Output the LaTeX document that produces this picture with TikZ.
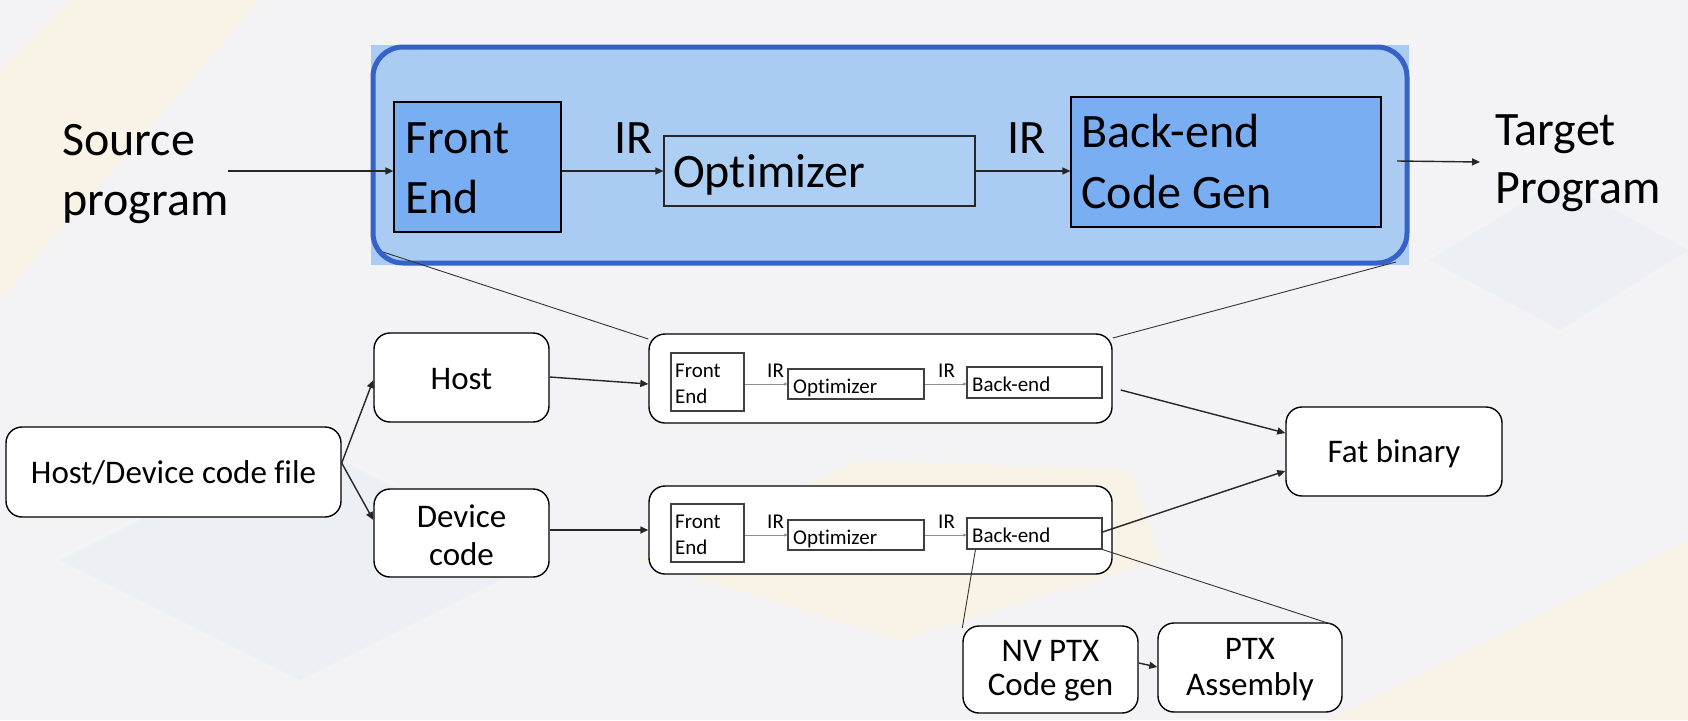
\documentclass[tikz,border=0pt]{standalone}
\usepackage{fontspec}
\setmainfont{Carlito}[Ligatures=NoCommon]
\usetikzlibrary{arrows.meta}
\definecolor{bgc}{RGB}{243,243,245}
\definecolor{bgyel}{RGB}{248,243,230}
\definecolor{bgblu}{RGB}{236,239,244}
\definecolor{bigfill}{RGB}{170,203,242}
\definecolor{bigborder}{RGB}{52,98,198}
\definecolor{midblue}{RGB}{122,174,242}
\definecolor{optfill}{RGB}{174,207,244}
\newcommand\fBig{\fontsize{48}{58}\selectfont}
\newcommand\fMid{\fontsize{33}{40}\selectfont}
\newcommand\fSml{\fontsize{21}{26}\selectfont}
\begin{document}
\begin{tikzpicture}[x=1pt,y=-1pt,
  bigtxt/.style={font=\fBig,inner sep=0pt,text=black},
  midtxt/.style={font=\fMid,inner sep=0pt,text=black},
  smltxt/.style={font=\fSml,inner sep=0pt,text=black},
  bluebox/.style={draw=black,line width=1.2pt,fill=midblue,inner sep=0pt},
  optbox/.style={draw=black!85,line width=1.2pt,fill=optfill,inner sep=0pt},
  rbox/.style={draw=black,line width=1.4pt,rounded corners=16pt,fill=white,inner sep=0pt},
  sbox/.style={draw=black!75,line width=1.1pt,fill=white,inner sep=0pt},
  arr/.style={draw=black!85,line width=1.4pt,-{Triangle[length=8pt,width=7pt]}},
  sarr/.style={draw=black!45,line width=0.8pt,-{Triangle[length=3pt,width=3pt]}},
  zoomline/.style={draw=black!80,line width=0.9pt}]
\useasboundingbox (0,0) rectangle (1688,720);
% background
\fill[bgc] (0,0) rectangle (1688,720);
\fill[bgyel] (0,70) -- (70,0) -- (260,0) -- (0,300) -- cycle;
\fill[bgyel] (640,560) -- (860,460) -- (1130,470) -- (1160,560) -- (900,640) -- cycle;
\fill[bgyel] (1330,720) -- (1688,540) -- (1688,720) -- cycle;
\fill[bgblu] (60,560) -- (300,440) -- (540,560) -- (300,680) -- cycle;
\fill[bgblu] (1430,260) -- (1560,180) -- (1688,250) -- (1560,330) -- cycle;

% big compiler box
\fill[bigfill] (371,45) rectangle (1409,265);
\node[draw=bigborder,line width=5pt,rounded corners=30pt,fill=bigfill,
      minimum width=1034pt,minimum height=216pt,inner sep=0pt] (big) at (890,155) {};
\node[bluebox,minimum width=167pt,minimum height=130pt] (FE) at (477.5,167) {};
\node[optbox,minimum width=311pt,minimum height=70pt] (OPT) at (819.5,171) {};
\node[bluebox,minimum width=310pt,minimum height=130pt] (BE) at (1226,162) {};
\node[bigtxt,anchor=base west] (feA) at (405,153) {Front};
\node[bigtxt,anchor=base west] (feB) at (405,213) {End};
\node[bigtxt,anchor=base west] (optT) at (673,187) {Optimizer};
\node[bigtxt,anchor=base west] (beA) at (1081,147) {Back-end};
\node[bigtxt,anchor=base west] (beB) at (1081,208) {Code Gen};
\node[bigtxt,anchor=base west] (irA) at (614,153) {IR};
\node[bigtxt,anchor=base west] (irB) at (1007,153) {IR};
\node[bigtxt,anchor=base west] (srcA) at (62,155) {Source};
\node[bigtxt,anchor=base west] (srcB) at (62,215) {program};
\node[bigtxt,anchor=base west] (tgA) at (1495,145) {Target};
\node[bigtxt,anchor=base west] (tgB) at (1495,203) {Program};
\coordinate (srcS) at (228,171);
\coordinate (tgS) at (1397,161);
\coordinate (tgE) at (1480,162);
\draw[arr] (srcS) -- (srcS -| FE.west);
\draw[arr] (FE.east |- OPT.west) -- (OPT.west);
\draw[arr] (OPT.east) -- (OPT.east -| BE.west);
\draw[arr] (tgS) -- (tgE);

% lower part
\node[rbox,minimum width=335pt,minimum height=90pt] (HD) at (173.5,472) {};
\node[midtxt,anchor=base] (hdT) at (173.5,483) {Host/Device code file};
\node[rbox,minimum width=175pt,minimum height=89pt] (HO) at (461.5,377.5) {};
\node[midtxt,anchor=base] (hoT) at (461.5,389) {Host};
\node[rbox,minimum width=175pt,minimum height=88pt] (DV) at (461.5,533) {};
\node[midtxt,anchor=base] (dvA) at (461.5,527) {Device};
\node[midtxt,anchor=base] (dvB) at (461.5,565) {code};

\node[rbox,minimum width=463pt,minimum height=89pt] (C1) at (880.5,378.5) {};
\node[rbox,minimum width=463pt,minimum height=88pt] (C2) at (880.5,530) {};

% upper small pipeline
\node[sbox,minimum width=73pt,minimum height=58pt] (fe1) at (707.5,382) {};
\node[sbox,minimum width=136pt,minimum height=30pt] (op1) at (856,384) {};
\node[sbox,minimum width=135pt,minimum height=31pt] (be1) at (1034.5,382.5) {};
\node[smltxt,anchor=base west] (fe1A) at (675,377) {Front};
\node[smltxt,anchor=base west] (fe1B) at (675,403) {End};
\node[smltxt,anchor=base west] (op1T) at (793,393) {Optimizer};
\node[smltxt,anchor=base west] (be1T) at (972,391) {Back-end};
\node[smltxt,anchor=base west] (ir1a) at (767,377) {IR};
\node[smltxt,anchor=base west] (ir1b) at (938,377) {IR};
\draw[sarr] (fe1.east |- op1.west) -- (op1.west);
\draw[sarr] (op1.east) -- (op1.east -| be1.west);

% lower small pipeline
\node[sbox,minimum width=73pt,minimum height=58pt] (fe2) at (707.5,533) {};
\node[sbox,minimum width=136pt,minimum height=30pt] (op2) at (856,535) {};
\node[sbox,minimum width=135pt,minimum height=31pt] (be2) at (1034.5,533.5) {};
\node[smltxt,anchor=base west] (fe2A) at (675,528) {Front};
\node[smltxt,anchor=base west] (fe2B) at (675,554) {End};
\node[smltxt,anchor=base west] (op2T) at (793,544) {Optimizer};
\node[smltxt,anchor=base west] (be2T) at (972,542) {Back-end};
\node[smltxt,anchor=base west] (ir2a) at (767,528) {IR};
\node[smltxt,anchor=base west] (ir2b) at (938,528) {IR};
\draw[sarr] (fe2.east |- op2.west) -- (op2.west);
\draw[sarr] (op2.east) -- (op2.east -| be2.west);

\node[rbox,minimum width=216pt,minimum height=89pt] (FB) at (1394,451.5) {};
\node[midtxt,anchor=base] (fbT) at (1394,462) {Fat binary};
\node[rbox,minimum width=175pt,minimum height=87pt] (NV) at (1050.5,669.5) {};
\node[midtxt,anchor=base] (nvA) at (1050.5,661) {NV PTX};
\node[midtxt,anchor=base] (nvB) at (1050.5,695) {Code gen};
\node[rbox,minimum width=184pt,minimum height=89pt] (PA) at (1250,667.5) {};
\node[midtxt,anchor=base] (paA) at (1250,659) {PTX};
\node[midtxt,anchor=base] (paB) at (1250,695) {Assembly};

% connectors
\draw[arr] (HD.east |- 0,463) -- (HO.west |- 0,380);
\draw[arr] (HD.east |- 0,463) -- (DV.west |- 0,520);
\draw[arr] (HO.east |- 0,377) -- (C1.west |- 0,384);
\draw[arr] (DV.east |- 0,530) -- (C2.west |- 0,530);
\draw[arr] (C1.east |- 0,390) ++(8,0) -- (FB.west |- 0,433);
\draw[arr] (be2.east |- 0,532) -- (FB.west |- 0,471);
\draw[arr] (NV.east |- 0,663) -- (PA.west |- 0,667);

% zoom lines
\coordinate (zA) at (383,252);
\coordinate (zB) at (1396,262);
\draw[zoomline] (zA) -- (C1.north west |- 0,339);
\draw[zoomline] (zB) -- (C1.north east |- 0,338);
\draw[zoomline] (be2.south west) ++(9,0) -- (NV.north west |- 0,628);
\draw[zoomline] (be2.south east) -- ([xshift=-12pt]PA.north east |- 0,624);
\end{tikzpicture}
\end{document}
